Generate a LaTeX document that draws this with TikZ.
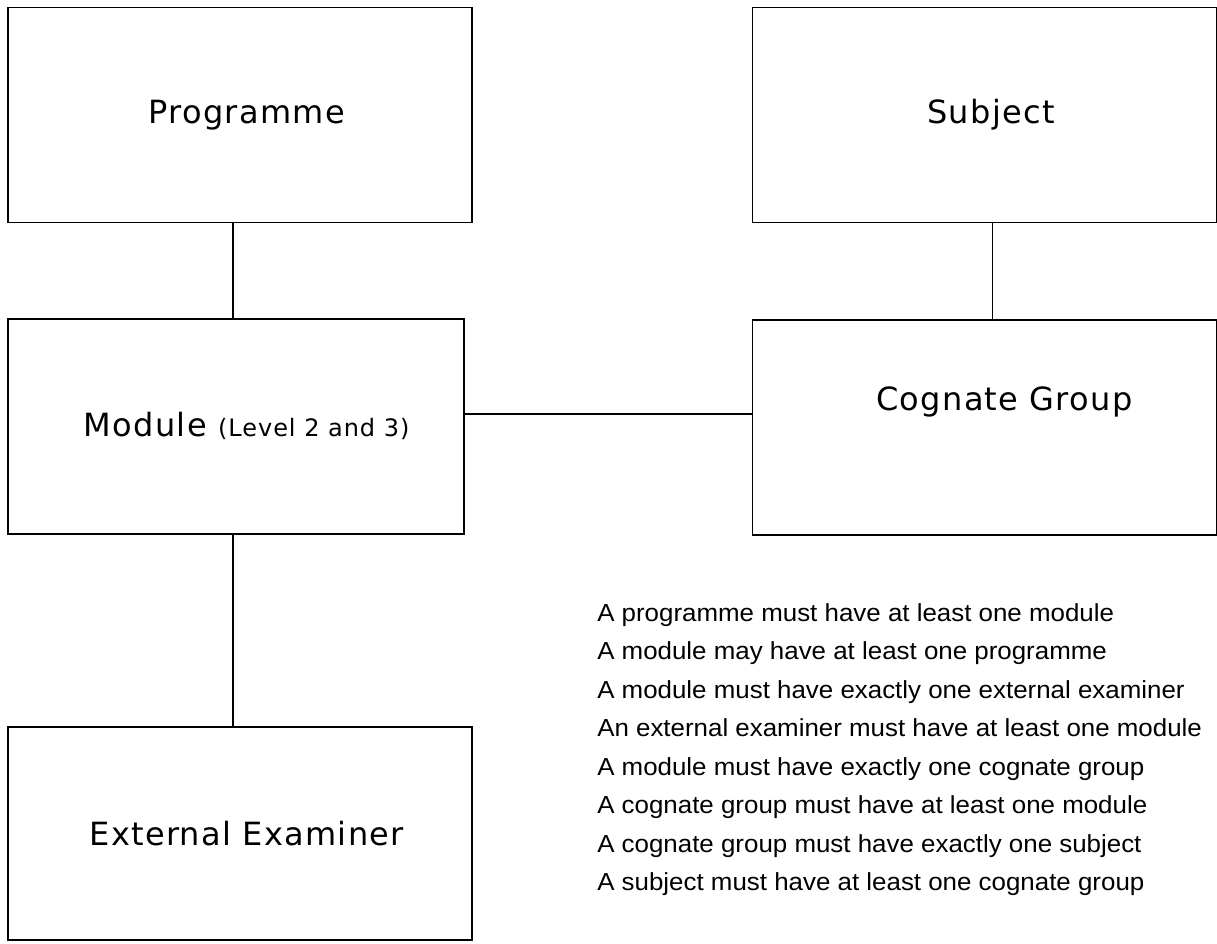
\documentclass[tikz,border=0pt]{standalone}
\usepackage{fontspec}
\usepackage{tikz}
\usetikzlibrary{positioning}
\newfontfamily\boxfont[LetterSpace=4.0]{DejaVu Sans}
\newfontfamily\rulefont[FakeStretch=1.05]{Liberation Sans}

\begin{document}
\begin{tikzpicture}[enttext/.style = {font=\boxfont\fontsize{24}{28}\selectfont},
    ent/.style = {draw, rectangle, line width=1.3pt, enttext, inner sep=0pt, minimum width=348pt, minimum height=161.25pt, execute at begin node={\hspace*{10pt}}},
    link/.style = {line width=1pt},
    rules/.style = {align=left, inner sep=0pt, font=\rulefont\fontsize{18.5}{28.9}\selectfont}]
    \useasboundingbox (0,0) rectangle (912.75pt,-707.25pt);
    \node[ent] (prog) at (180pt,-86.25pt) {Programme};
    \node[ent, minimum width=342pt] (mod) [below=71pt of prog.south west, anchor=north west] {\hspace*{6pt}Module {\fontsize{18}{20}\selectfont (Level 2 and 3)}};
    \node[ent, minimum height=159.75pt] (ext) [below=143.25pt of mod.south west, anchor=north west] {External Examiner};
    \node[ent] (subj) [right=209pt of prog.north east, anchor=north west] {Subject};
    \node[ent, label={[enttext, xshift=15pt, yshift=19pt]center:Cognate Group}] (cog) [below=72pt of subj.south west, anchor=north west] {};
    \node[rules, anchor=north west] (rules) at (447.75pt,-452.25pt) {A programme must have at least one module\\
        A module may have at least one programme\\
        A module must have exactly one external examiner\\
        An external examiner must have at least one module\\
        A module must have exactly one cognate group\\
        A cognate group must have at least one module\\
        A cognate group must have exactly one subject\\
        A subject must have at least one cognate group};
    \draw[link] ([xshift=-2.25pt]mod.north) -- ([xshift=-2.25pt]mod.north |- prog.south);
    \draw[link] ([xshift=-2.25pt]mod.south) -- ([xshift=-2.25pt]mod.south |- ext.north);
    \draw[link] ([xshift=6pt]subj.south) -- ([xshift=6pt]subj.south |- cog.north);
    \draw[link] ([yshift=9.4pt]mod.east) -- ([yshift=9.4pt]mod.east -| cog.west);
\end{tikzpicture}
\end{document}
